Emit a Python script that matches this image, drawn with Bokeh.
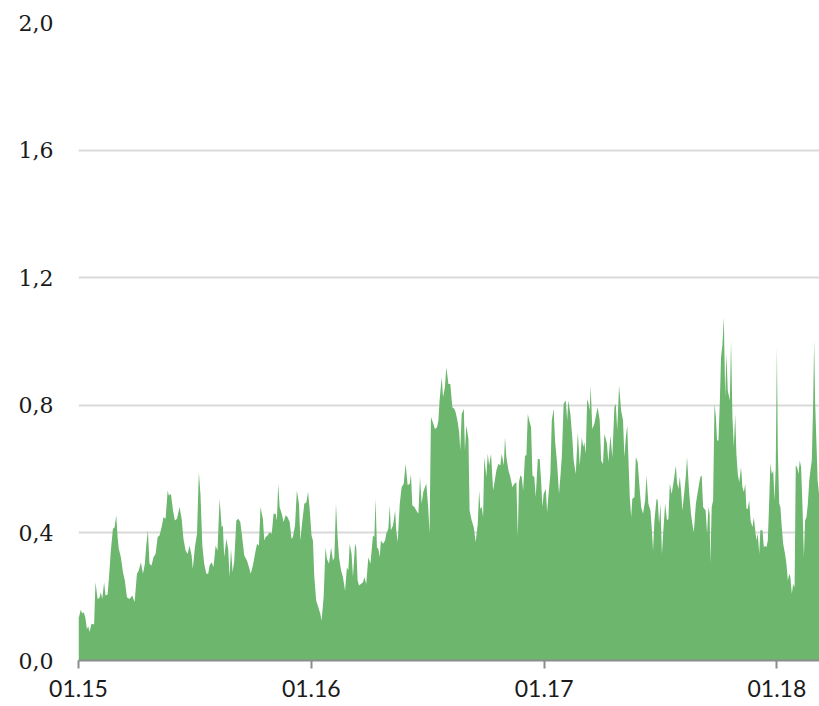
from bokeh.plotting import figure
from bokeh.models import FixedTicker, ColumnDataSource
from bokeh.embed import file_html
from bokeh.resources import INLINE

# time as years after 1 Jan 2015, and the plotted value
year_fraction = [
    0.000, 0.002, 0.010, 0.016, 0.022, 0.029, 0.036, 0.042, 0.047, 0.056, 0.067, 0.073, 0.082, 0.090, 0.096,
    0.102, 0.110, 0.116, 0.125, 0.131, 0.139, 0.148, 0.155, 0.162, 0.168, 0.173, 0.182, 0.191, 0.199, 0.208,
    0.219, 0.231, 0.241, 0.251, 0.259, 0.268, 0.277, 0.285, 0.291, 0.298, 0.305, 0.314, 0.322, 0.331, 0.340,
    0.348, 0.357, 0.365, 0.374, 0.383, 0.388, 0.397, 0.406, 0.414, 0.423, 0.434, 0.443, 0.451, 0.460, 0.469,
    0.477, 0.486, 0.491, 0.500, 0.509, 0.517, 0.524, 0.532,
    0.540, 0.549, 0.557, 0.563, 0.572, 0.580, 0.589, 0.597, 0.606, 0.615, 0.620, 0.626, 0.635, 0.643, 0.649,
    0.655, 0.662, 0.669, 0.678, 0.686, 0.695, 0.703, 0.712, 0.724, 0.732, 0.740, 0.749, 0.761, 0.767, 0.775,
    0.782, 0.792, 0.798, 0.804, 0.812, 0.821, 0.830, 0.838, 0.847, 0.852, 0.858, 0.864, 0.873, 0.881, 0.890,
    0.898, 0.907, 0.915, 0.921, 0.930, 0.938, 0.947, 0.953, 0.961, 0.970, 0.979, 0.986, 0.993, 1.001, 1.007,
    1.013, 1.021, 1.030, 1.039, 1.044, 1.053, 1.061,
    1.067, 1.076, 1.085, 1.093, 1.099, 1.106, 1.113, 1.119, 1.128, 1.136, 1.145, 1.153, 1.159, 1.165, 1.173,
    1.179, 1.188, 1.193, 1.199, 1.205, 1.213, 1.222, 1.228, 1.236, 1.245, 1.254, 1.265, 1.271, 1.276, 1.282,
    1.288, 1.294, 1.299, 1.308, 1.317, 1.322, 1.331, 1.337, 1.342, 1.351, 1.360, 1.365, 1.371, 1.380, 1.388,
    1.397, 1.405, 1.414, 1.423, 1.428, 1.434, 1.443, 1.451, 1.460, 1.467, 1.474, 1.481, 1.488, 1.494, 1.502,
    1.508, 1.514, 1.522, 1.531, 1.540, 1.546, 1.551, 1.560, 1.566, 1.574, 1.580, 1.589, 1.597,
    1.606, 1.614, 1.620, 1.629, 1.635, 1.640, 1.646, 1.655, 1.660, 1.666, 1.675, 1.680, 1.689, 1.698, 1.706,
    1.715, 1.721, 1.726, 1.732, 1.738, 1.743, 1.752, 1.758, 1.764, 1.772, 1.781, 1.786, 1.795, 1.804, 1.812,
    1.818, 1.827, 1.832, 1.838, 1.847, 1.855, 1.864, 1.872, 1.881, 1.887, 1.892, 1.898, 1.904, 1.910, 1.918,
    1.924, 1.930, 1.938, 1.944, 1.950, 1.958, 1.964, 1.973, 1.981, 1.987, 1.993, 1.998, 2.007, 2.013, 2.018,
    2.027, 2.033, 2.041, 2.047, 2.056, 2.064, 2.070, 2.076, 2.084, 2.093, 2.099, 2.104, 2.113, 2.121, 2.127,
    2.136, 2.145, 2.153, 2.162, 2.168, 2.173, 2.179, 2.185, 2.191, 2.196, 2.200, 2.207, 2.216, 2.224, 2.230,
    2.239, 2.245, 2.253, 2.259, 2.265, 2.270, 2.276, 2.285, 2.293, 2.302, 2.308, 2.314, 2.322, 2.331, 2.339,
    2.345, 2.351, 2.357, 2.362, 2.368, 2.374, 2.379, 2.388, 2.394, 2.402, 2.411, 2.417, 2.425, 2.434, 2.440,
    2.448, 2.457, 2.463, 2.468, 2.474, 2.483, 2.488, 2.494, 2.500, 2.506, 2.514, 2.520, 2.528, 2.534, 2.540,
    2.548, 2.557, 2.566, 2.571, 2.577, 2.583, 2.589, 2.594, 2.603, 2.609, 2.614, 2.623, 2.631, 2.637, 2.643,
    2.652, 2.660,
    2.671, 2.677, 2.683, 2.688, 2.694, 2.700, 2.706, 2.711, 2.714, 2.720, 2.726, 2.732, 2.738, 2.743, 2.749,
    2.755, 2.760, 2.766, 2.772, 2.778, 2.783, 2.789, 2.798, 2.803, 2.809, 2.815, 2.821, 2.826, 2.832, 2.838,
    2.846, 2.852, 2.858, 2.864, 2.869, 2.875, 2.881, 2.887, 2.895, 2.901, 2.907, 2.912, 2.918, 2.924, 2.929,
    2.938, 2.944, 2.950, 2.955, 2.961, 2.967, 2.972, 2.978, 2.984, 2.990, 2.995, 3.000, 3.004, 3.010, 3.015,
    3.021, 3.027, 3.035, 3.041, 3.047, 3.053, 3.058, 3.064, 3.070, 3.076, 3.081, 3.087, 3.093, 3.098, 3.104,
    3.110, 3.116, 3.121, 3.127, 3.133, 3.139, 3.144, 3.150, 3.156, 3.160, 3.164, 3.170, 3.175, 3.183,
]

values = [
    0.136, 0.136, 0.159, 0.147, 0.151, 0.136, 0.099, 0.107, 0.089, 0.115, 0.113, 0.245, 0.193, 0.197, 0.214,
    0.193, 0.245, 0.204, 0.207, 0.261, 0.345, 0.413, 0.417, 0.455, 0.387, 0.350, 0.324, 0.277, 0.251, 0.198,
    0.193, 0.204, 0.183, 0.272, 0.282, 0.308, 0.272, 0.303, 0.360, 0.408, 0.303, 0.298, 0.324, 0.334, 0.387,
    0.392, 0.418, 0.449, 0.444, 0.533, 0.517, 0.522, 0.470, 0.439, 0.444, 0.481, 0.444, 0.381, 0.345, 0.334,
    0.360, 0.329, 0.287, 0.355, 0.397, 0.590, 0.520, 0.360,
    0.303, 0.272, 0.272, 0.298, 0.308, 0.293, 0.360, 0.345, 0.507, 0.418, 0.423, 0.324, 0.381, 0.350, 0.261,
    0.350, 0.277, 0.313, 0.439, 0.444, 0.434, 0.387, 0.329, 0.313, 0.293, 0.272, 0.298, 0.345, 0.366, 0.360,
    0.481, 0.444, 0.376, 0.387, 0.392, 0.402, 0.397, 0.460, 0.460, 0.439, 0.554, 0.481, 0.460, 0.434, 0.455,
    0.449, 0.434, 0.381, 0.387, 0.423, 0.533, 0.491, 0.376, 0.434, 0.491, 0.496, 0.528, 0.475, 0.392, 0.376,
    0.261, 0.188, 0.167, 0.146, 0.125, 0.198, 0.355,
    0.319, 0.303, 0.354, 0.313, 0.324, 0.491, 0.387, 0.324, 0.282, 0.261, 0.219, 0.292, 0.282, 0.366, 0.334,
    0.261, 0.366, 0.354, 0.251, 0.235, 0.240, 0.245, 0.261, 0.240, 0.324, 0.303, 0.392, 0.387, 0.507, 0.354,
    0.350, 0.324, 0.376, 0.366, 0.376, 0.397, 0.413, 0.486, 0.408, 0.423, 0.470, 0.408, 0.371, 0.491, 0.543,
    0.554, 0.617, 0.549, 0.554, 0.585, 0.486, 0.481, 0.470, 0.460, 0.575, 0.491, 0.528, 0.543, 0.554, 0.481,
    0.397, 0.763, 0.747, 0.726, 0.731, 0.752, 0.815, 0.888, 0.825, 0.857, 0.919, 0.867, 0.867,
    0.794, 0.789, 0.778, 0.747, 0.716, 0.658, 0.773, 0.789, 0.658, 0.737, 0.695, 0.470, 0.439, 0.418, 0.371,
    0.428, 0.533, 0.475, 0.481, 0.449, 0.637, 0.575, 0.648, 0.611, 0.648, 0.533, 0.554, 0.596, 0.617, 0.611,
    0.648, 0.611, 0.700, 0.637, 0.596, 0.575, 0.543, 0.554, 0.559, 0.387, 0.559, 0.580, 0.575, 0.533, 0.643,
    0.643, 0.773, 0.747, 0.731, 0.580, 0.575, 0.512, 0.632, 0.632, 0.564, 0.481, 0.522, 0.538, 0.465, 0.512,
    0.585, 0.752, 0.789, 0.690, 0.617, 0.522, 0.575, 0.637, 0.805, 0.815, 0.752, 0.815, 0.773, 0.700, 0.627,
    0.585, 0.716, 0.611, 0.700, 0.669, 0.684, 0.648, 0.820, 0.805, 0.784, 0.862, 0.726, 0.742, 0.773, 0.794,
    0.752, 0.627, 0.616, 0.710, 0.695, 0.679, 0.622, 0.705, 0.637, 0.794, 0.805, 0.721, 0.862, 0.784, 0.752,
    0.637, 0.700, 0.737, 0.637, 0.512, 0.449, 0.507, 0.512, 0.637, 0.622, 0.533, 0.481, 0.460, 0.502, 0.580,
    0.491, 0.470, 0.408, 0.345, 0.439, 0.507, 0.502, 0.428, 0.491, 0.334, 0.428, 0.491, 0.439, 0.444, 0.554,
    0.522, 0.564, 0.611, 0.559, 0.538, 0.575, 0.528, 0.470, 0.533, 0.580, 0.637, 0.528, 0.460, 0.428, 0.402,
    0.491, 0.528,
    0.575, 0.580, 0.481, 0.476, 0.470, 0.397, 0.481, 0.460, 0.303, 0.481, 0.502, 0.805, 0.763, 0.690, 0.690,
    0.815, 0.951, 0.990, 1.076, 0.825, 0.961, 0.846, 0.815, 1.003, 0.763, 0.669, 0.773, 0.648, 0.585, 0.559,
    0.606, 0.543, 0.528, 0.554, 0.476, 0.476, 0.502, 0.439, 0.418, 0.449, 0.408, 0.376, 0.397, 0.334, 0.408,
    0.408, 0.355, 0.360, 0.355, 0.376, 0.502, 0.617, 0.585, 0.596, 0.502, 0.606, 0.982, 0.658, 0.491, 0.481,
    0.418, 0.366, 0.334, 0.303, 0.251, 0.272, 0.261, 0.209, 0.240, 0.230, 0.611, 0.606, 0.585, 0.627, 0.606,
    0.481, 0.324, 0.439, 0.449, 0.491, 0.564, 0.596, 0.627, 0.815, 1.003, 0.815, 0.679, 0.564, 0.507,
]

x_ticks = [2015, 2016, 2017, 2018]
x_tick_labels = ["01.15", "01.16", "01.17", "01.18"]
y_ticks = [0.0, 0.4, 0.8, 1.2, 1.6, 2.0]
y_tick_labels = ["0,0", "0,4", "0,8", "1,2", "1,6", "2,0"]

x = [2015 + f for f in year_fraction]
src = ColumnDataSource(dict(x=x, y=values))

p = figure(width=819, height=706, x_range=(2015, 2015 + year_fraction[-1]), y_range=(0, 2.0),
           output_backend="svg", toolbar_location=None,
           min_border_left=78, min_border_right=0, min_border_top=22, min_border_bottom=46)
p.varea(x="x", y1=0, y2="y", source=src, fill_color="#6cb66e")

p.outline_line_color = None
p.xgrid.visible = False
p.ygrid.ticker = FixedTicker(ticks=y_ticks)
p.ygrid.grid_line_color = "#d9d9d9"
p.ygrid.grid_line_width = 2

p.yaxis.ticker = FixedTicker(ticks=y_ticks)
p.yaxis.major_label_overrides = dict(zip(y_ticks, y_tick_labels))
p.yaxis.axis_line_color = None
p.yaxis.major_tick_line_color = None
p.yaxis.minor_tick_line_color = None
p.yaxis.major_tick_out = 0
p.yaxis.major_tick_in = 0
p.yaxis.major_label_standoff = 25
p.yaxis.major_label_text_font = "DejaVu Serif"
p.yaxis.major_label_text_font_size = "22px"
p.yaxis.major_label_text_color = "#1a1a1a"

p.xaxis.ticker = FixedTicker(ticks=x_ticks)
p.xaxis.major_label_overrides = dict(zip(x_ticks, x_tick_labels))
p.xaxis.axis_line_color = "#8c8c8c"
p.xaxis.axis_line_width = 2
p.xaxis.major_tick_line_color = "#8c8c8c"
p.xaxis.major_tick_line_width = 2
p.xaxis.major_tick_out = 8
p.xaxis.major_tick_in = 0
p.xaxis.minor_tick_line_color = None
p.xaxis.major_label_standoff = 11
p.xaxis.major_label_text_font = "Lato"
p.xaxis.major_label_text_font_size = "23px"
p.xaxis.major_label_text_color = "#1a1a1a"

open("out.html", "w").write(file_html(p, INLINE))
